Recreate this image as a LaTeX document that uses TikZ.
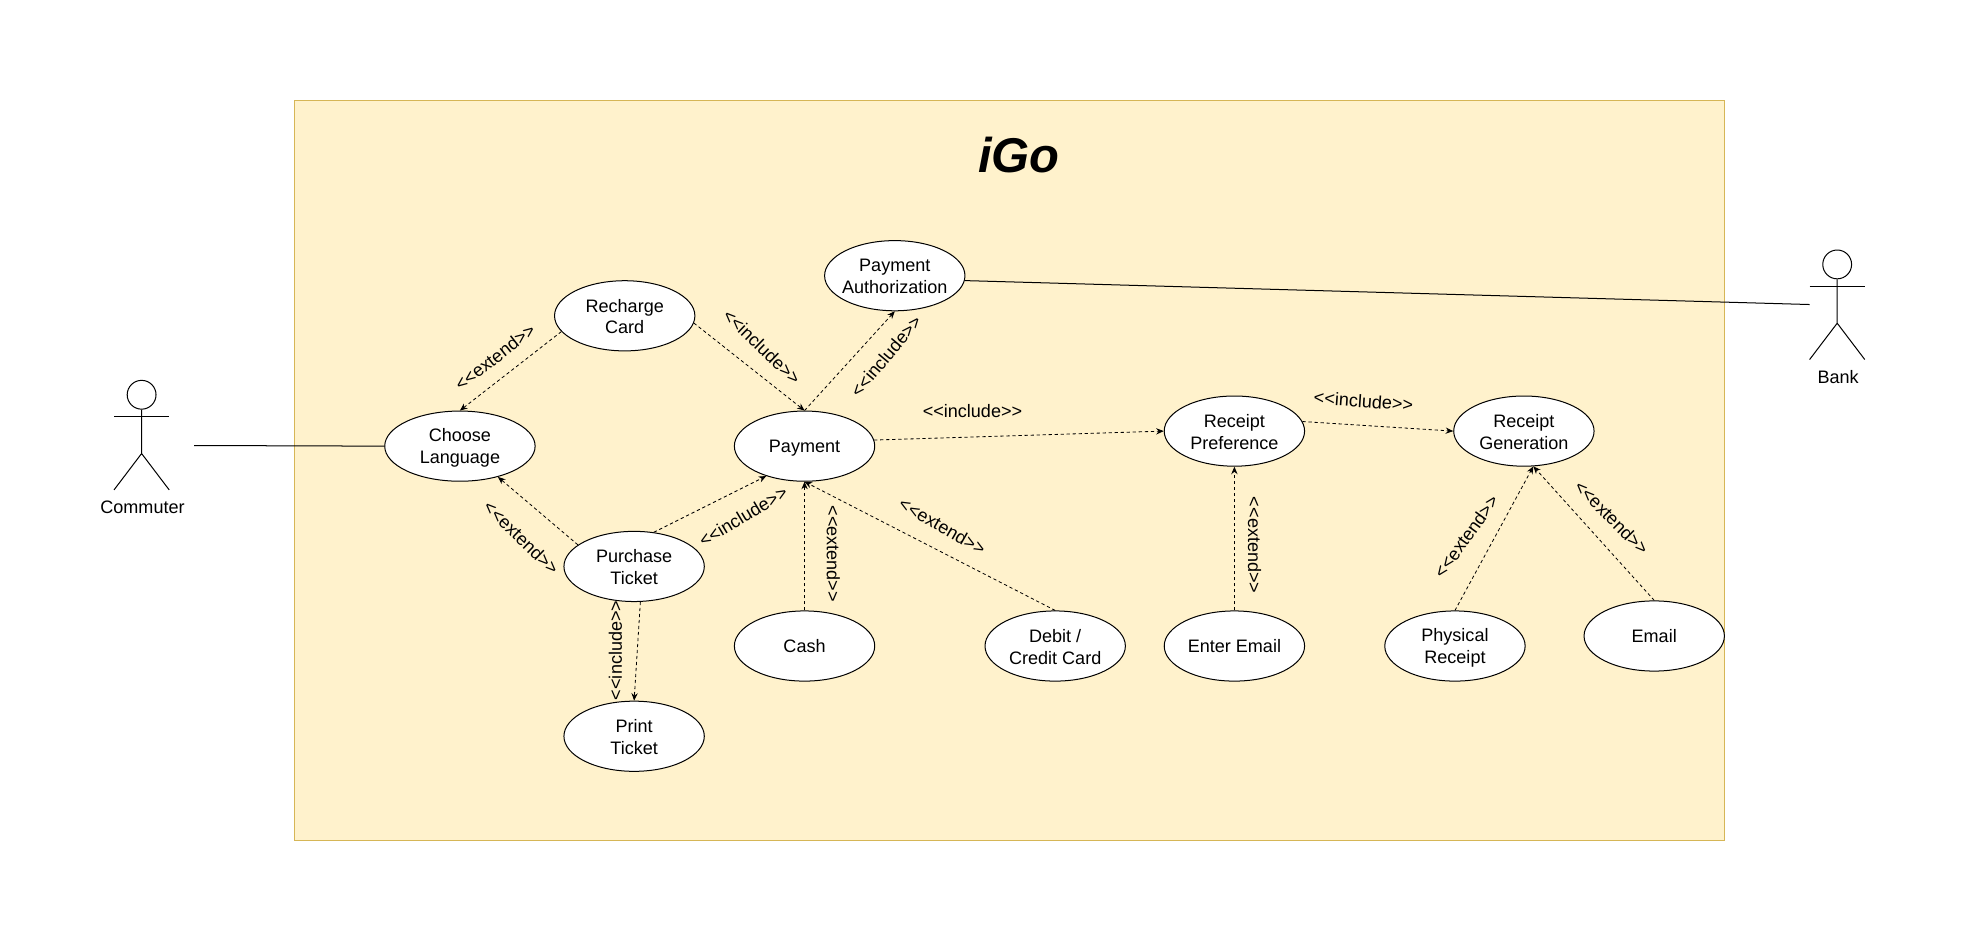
\documentclass[tikz,border=0pt]{standalone}
\usepackage{fontspec}
\usetikzlibrary{arrows.meta,shapes.geometric}
\newfontfamily\umlfont{Liberation Sans}
\definecolor{framefill}{HTML}{FFF2CC}
\definecolor{frameline}{HTML}{D6B656}
\newcommand{\topline}{\rule{0pt}{13.5pt}}
\tikzset{
  usecase/.style={ellipse,draw,fill=white,line width=0.8pt,minimum width=112pt,minimum height=56pt,inner sep=0pt,inner xsep=-8pt,align=center,font=\umlfont\fontsize{14.4}{17.5}\selectfont,
    execute at begin node={\rule{0pt}{13pt}},execute at end node={\rule[-2pt]{0pt}{2pt}}},
  rel/.style={dash pattern=on 2.6pt off 2.2pt,line width=0.65pt,-{Stealth[length=6pt,width=5pt]}},
  stereo/.style={inner sep=0pt,font=\umlfont\fontsize{14.4}{17.5}\selectfont},
  assoc/.style={line width=0.8pt}
}
\begin{document}
\begin{tikzpicture}[x=1pt,y=-1pt]
    \useasboundingbox (0,0) rectangle (1568,751.7);
    \node[draw=frameline,fill=framefill,line width=0.8pt,minimum width=1141pt,minimum height=591pt,inner sep=0pt] (system) at (805.5,375.5) {};
    \node[inner sep=0pt,font=\umlfont\bfseries\itshape\fontsize{39}{44}\selectfont] (title) at (813,124) {iGo};
    \foreach \n/\x/\y/\w/\t in {choose/367/356/120/{\topline Choose\\Language},recharge/498.5/252/112/{\topline Recharge\\Card},
      payauth/714/220/112/{\topline Payment\\Authorization},payment/642/356/112/{Payment},purchase/506/452/112/{\topline Purchase\\Ticket},
      print/506/587.5/112/{\topline Print\\Ticket},cash/642/515.5/112/{Cash},debit/842/515.5/112/{\topline Debit /\\Credit Card},
      enter/985/515.5/112/{Enter Email},rpref/985/344/112/{\topline Receipt\\Preference},rgen/1216/344/112/{\topline Receipt\\Generation},
      physical/1161/515.5/112/{\topline Physical\\Receipt},email/1320/507.5/112/{Email}}
      {\node[usecase,minimum width=\w pt] (\n) at (\x,\y) {\t};}
    \foreach \n/\x/\y/\t in {commuter/113/315/Commuter,bank/1466/211/Bank} {
      \node[circle,draw,line width=0.8pt,minimum size=23pt,inner sep=0pt] (\n head) at (\x,\y) {};
      \node[inner sep=0pt,font=\umlfont\fontsize{14.4}{17.5}\selectfont] (\n label) at (\x+0.7,\y+90) {\t};
      \draw[assoc] (\n head.south) -- ++(0,35) -- ++(-22,29) ++(22,-29) -- ++(22,29);
      \draw[assoc] (\x-22,\y+17.5) -- (\x+22,\y+17.5);
    }
    \coordinate (commuterend) at (155,355.5);
    \coordinate (bankend) at (1444,243);
    \draw[assoc] (commuterend) -- (choose.west);
    \draw[assoc] (payauth.356) -- (bankend);
    \draw[rel] (recharge.194) -- (choose.north);
    \draw[rel] (recharge.354) -- (payment.north);
    \draw[rel] (payment.north) -- (payauth.south);
    \draw[rel] (purchase.60) -- (payment.218);
    \draw[rel] (purchase.159) -- (choose.321);
    \draw[rel] (purchase.280) -- (print.north);
    \draw[rel] (cash.north) -- (payment.south);
    \draw[rel] (debit.north) -- (payment.south);
    \draw[rel] (payment.5) -- (rpref.west);
    \draw[rel] (rpref.8) -- (rgen.west);
    \draw[rel] (enter.north) -- (rpref.south);
    \draw[rel] (physical.north) -- (rgen.285);
    \draw[rel] (email.north) -- (rgen.285);
    % stereotypes
    \foreach \x/\y/\r/\t [count=\i from 1] in {395/285/38/extend,608/277/-44/include,707/284/50/include,
      776/328/0/include,1088/320/-4/include,416/429/-44/extend,593/412/31/include,665/442/-90/extend,
      491/519/90/include,752/420/-30/extend,1001/435/-90/extend,1170/428/54/extend,1286/413/-45/extend}
      {\node[stereo,rotate=\r] (s\i) at (\x,\y) {<<\t>>};}
  \end{tikzpicture}
\end{document}
